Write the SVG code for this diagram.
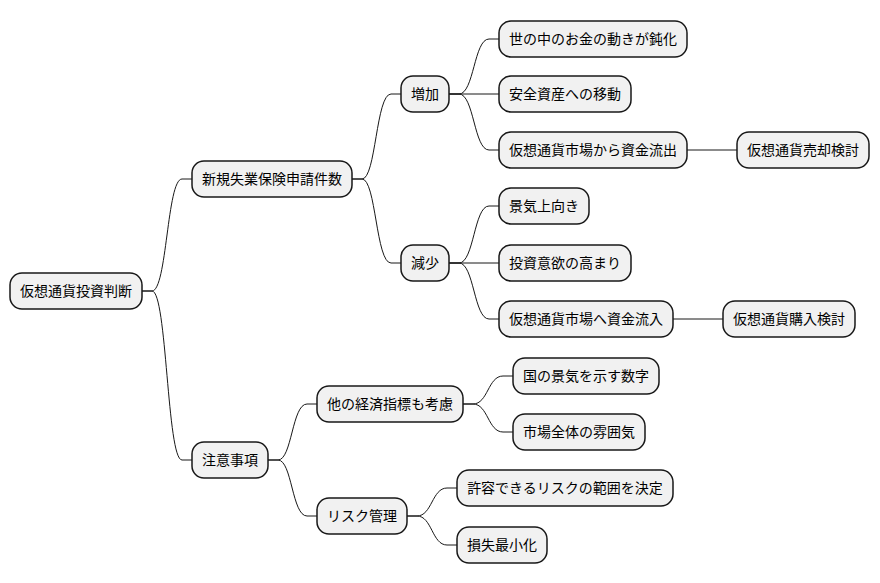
<svg xmlns="http://www.w3.org/2000/svg" width="880" height="583" viewBox="0 0 880 583">
<style>
.n rect{fill:#F1F1F1;stroke:#181818;stroke-width:1.5}
.n text{font-family:"Noto Sans CJK JP","Noto Sans",sans-serif;font-size:14px;fill:#000;text-anchor:middle}
#connectors path{fill:none;stroke:#181818;stroke-width:1}
</style>
<rect width="880" height="583" fill="#FFFFFF"/>
<g id="connectors">
<path d="M142,291 h10 C167,291 167,179 182,179 H192"/>
<path d="M142,291 h10 C167,291 167,460 182,460 H192"/>
<path d="M352,179 h10 C376,179 376,94 391,94 H401"/>
<path d="M352,179 h10 C376,179 376,263 391,263 H401"/>
<path d="M449,94 h10 C474,94 474,39 489,39 H499"/>
<path d="M449,94 H499"/>
<path d="M449,94 h10 C474,94 474,150 489,150 H499"/>
<path d="M687,150 H737"/>
<path d="M449,263 h10 C474,263 474,206 489,206 H499"/>
<path d="M449,263 H499"/>
<path d="M449,263 h10 C474,263 474,319 489,319 H499"/>
<path d="M673,319 H723"/>
<path d="M268,460 h10 C292,460 292,404 307,404 H317"/>
<path d="M268,460 h10 C292,460 292,516 307,516 H317"/>
<path d="M463,404 h10 C488,404 488,376 503,376 H513"/>
<path d="M463,404 h10 C488,404 488,432 503,432 H513"/>
<path d="M407,516 h10 C432,516 432,488 447,488 H457"/>
<path d="M407,516 h10 C432,516 432,545 447,545 H457"/>
</g>
<g id="root" class="n"><rect x="10" y="273" width="132" height="36" rx="12"/><text x="76" y="296">仮想通貨投資判断</text></g>
<g id="n1" class="n"><rect x="192" y="161" width="160" height="36" rx="12"/><text x="272" y="184">新規失業保険申請件数</text></g>
<g id="n1a" class="n"><rect x="401" y="76" width="48" height="36" rx="12"/><text x="425" y="99">増加</text></g>
<g id="n1a1" class="n"><rect x="499" y="21" width="188" height="36" rx="12"/><text x="593" y="44">世の中のお金の動きが鈍化</text></g>
<g id="n1a2" class="n"><rect x="499" y="76" width="132" height="36" rx="12"/><text x="565" y="99">安全資産への移動</text></g>
<g id="n1a3" class="n"><rect x="499" y="132" width="188" height="36" rx="12"/><text x="593" y="155">仮想通貨市場から資金流出</text></g>
<g id="n1a3a" class="n"><rect x="737" y="132" width="132" height="36" rx="12"/><text x="803" y="155">仮想通貨売却検討</text></g>
<g id="n1b" class="n"><rect x="401" y="245" width="48" height="36" rx="12"/><text x="425" y="268">減少</text></g>
<g id="n1b1" class="n"><rect x="499" y="188" width="90" height="36" rx="12"/><text x="544" y="211">景気上向き</text></g>
<g id="n1b2" class="n"><rect x="499" y="245" width="132" height="36" rx="12"/><text x="565" y="268">投資意欲の高まり</text></g>
<g id="n1b3" class="n"><rect x="499" y="301" width="174" height="36" rx="12"/><text x="586" y="324">仮想通貨市場へ資金流入</text></g>
<g id="n1b3a" class="n"><rect x="723" y="301" width="132" height="36" rx="12"/><text x="789" y="324">仮想通貨購入検討</text></g>
<g id="n2" class="n"><rect x="192" y="442" width="76" height="36" rx="12"/><text x="230" y="465">注意事項</text></g>
<g id="n2a" class="n"><rect x="317" y="386" width="146" height="36" rx="12"/><text x="390" y="409">他の経済指標も考慮</text></g>
<g id="n2a1" class="n"><rect x="513" y="358" width="146" height="36" rx="12"/><text x="586" y="381">国の景気を示す数字</text></g>
<g id="n2a2" class="n"><rect x="513" y="414" width="132" height="36" rx="12"/><text x="579" y="437">市場全体の雰囲気</text></g>
<g id="n2b" class="n"><rect x="317" y="498" width="90" height="36" rx="12"/><text x="362" y="521">リスク管理</text></g>
<g id="n2b1" class="n"><rect x="457" y="470" width="216" height="36" rx="12"/><text x="565" y="493">許容できるリスクの範囲を決定</text></g>
<g id="n2b2" class="n"><rect x="457" y="527" width="90" height="36" rx="12"/><text x="502" y="550">損失最小化</text></g>
</svg>
